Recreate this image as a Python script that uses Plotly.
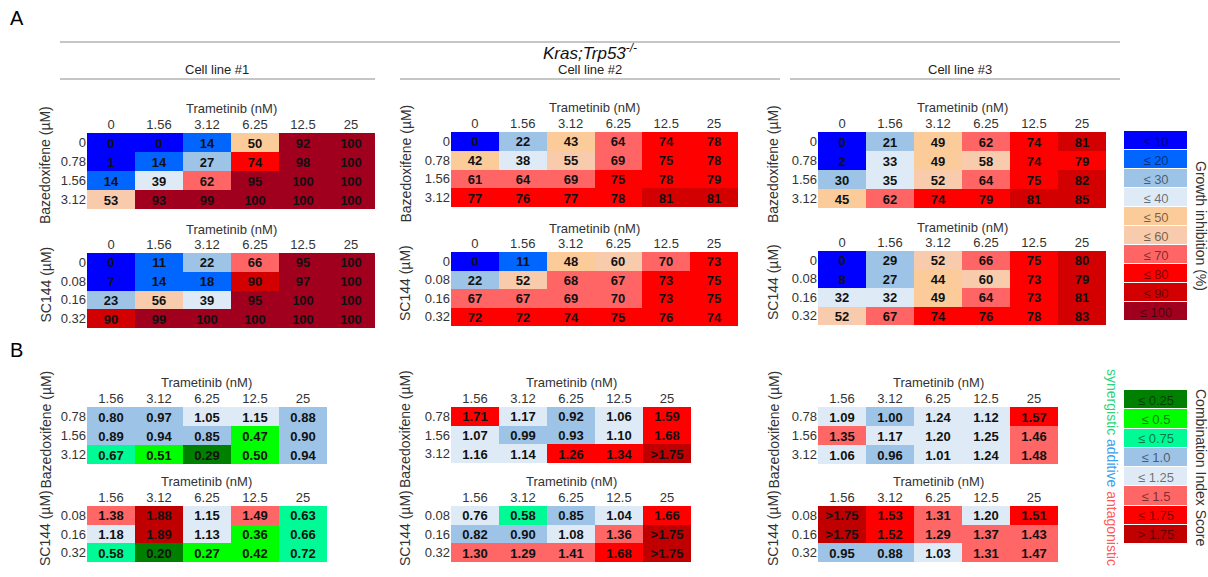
import math
import plotly.graph_objects as go

FONT = "Liberation Sans, Arial, sans-serif"
W, H = 1208, 577

# ---------------- data ----------------
trametinib_a = ["0", "1.56", "3.12", "6.25", "12.5", "25"]
trametinib_b = ["1.56", "3.12", "6.25", "12.5", "25"]
baz_a = ["0", "0.78", "1.56", "3.12"]
sc_a = ["0", "0.08", "0.16", "0.32"]
baz_b = ["0.78", "1.56", "3.12"]
sc_b = ["0.08", "0.16", "0.32"]

# growth inhibition (%)
cl1_baz_gi = [[0, 0, 14, 50, 92, 100], [1, 14, 27, 74, 98, 100],
              [14, 39, 62, 95, 100, 100], [53, 93, 99, 100, 100, 100]]
cl1_sc_gi = [[0, 11, 22, 66, 95, 100], [7, 14, 18, 90, 97, 100],
             [23, 56, 39, 95, 100, 100], [90, 99, 100, 100, 100, 100]]
cl2_baz_gi = [[0, 22, 43, 64, 74, 78], [42, 38, 55, 69, 75, 78],
              [61, 64, 69, 75, 78, 79], [77, 76, 77, 78, 81, 81]]
cl2_sc_gi = [[0, 11, 48, 60, 70, 73], [22, 52, 68, 67, 73, 75],
             [67, 67, 69, 70, 73, 75], [72, 72, 74, 75, 76, 74]]
cl3_baz_gi = [[0, 21, 49, 62, 74, 81], [2, 33, 49, 58, 74, 79],
              [30, 35, 52, 64, 75, 82], [45, 62, 74, 79, 81, 85]]
cl3_sc_gi = [[0, 29, 52, 66, 75, 80], [8, 27, 44, 60, 73, 79],
             [32, 32, 49, 64, 73, 81], [52, 67, 74, 76, 78, 83]]

# combination index
cl1_baz_ci = [[0.80, 0.97, 1.05, 1.15, 0.88], [0.89, 0.94, 0.85, 0.47, 0.90],
              [0.67, 0.51, 0.29, 0.50, 0.94]]
cl1_sc_ci = [[1.38, 1.88, 1.15, 1.49, 0.63], [1.18, 1.89, 1.13, 0.36, 0.66],
             [0.58, 0.20, 0.27, 0.42, 0.72]]
cl2_baz_ci = [[1.71, 1.17, 0.92, 1.06, 1.59], [1.07, 0.99, 0.93, 1.10, 1.68],
              [1.16, 1.14, 1.26, 1.34, ">1.75"]]
cl2_sc_ci = [[0.76, 0.58, 0.85, 1.04, 1.66], [0.82, 0.90, 1.08, 1.36, ">1.75"],
             [1.30, 1.29, 1.41, 1.68, ">1.75"]]
cl3_baz_ci = [[1.09, 1.00, 1.24, 1.12, 1.57], [1.35, 1.17, 1.20, 1.25, 1.46],
              [1.06, 0.96, 1.01, 1.24, 1.48]]
cl3_sc_ci = [[">1.75", 1.53, 1.31, 1.20, 1.51], [">1.75", 1.52, 1.29, 1.37, 1.43],
             [0.95, 0.88, 1.03, 1.31, 1.47]]

# colour classes shown in the original that differ from the printed (rounded) value
class_overrides = {
    ("cl1_baz_ci", 2, 1): 1, ("cl1_baz_ci", 2, 2): 0,
    ("cl2_baz_ci", 2, 2): 6, ("cl2_baz_ci", 2, 3): 6,
    ("cl2_sc_ci", 0, 0): 4,
    ("cl3_sc_gi", 0, 5): 8, ("cl3_sc_gi", 1, 5): 8,
}

gi_legend = ["≤ 10", "≤ 20", "≤ 30", "≤ 40", "≤ 50", "≤ 60", "≤ 70", "≤ 80", "≤ 90", "≤ 100"]
gi_colors = ["#0000FF", "#0066FF", "#9DC3E6", "#DEEBF7", "#FBCB9A",
             "#F8CBAD", "#FF6565", "#FF0000", "#D20000", "#A0001E"]
ci_legend = ["≤ 0.25", "≤ 0.5", "≤ 0.75", "≤ 1.0", "≤ 1.25", "≤ 1.5", "≤ 1.75", "> 1.75"]
ci_thresholds = [0.25, 0.5, 0.75, 1.0, 1.25, 1.5, 1.75]
ci_colors = ["#008000", "#00FF00", "#00FA96", "#9DC3E6", "#DEEBF7",
             "#FF6666", "#FF0000", "#C00000"]


def gi_class(v):
    return max(0, math.ceil(v / 10) - 1)


def ci_class(v):
    if isinstance(v, str):
        return len(ci_thresholds)
    for i, t in enumerate(ci_thresholds):
        if v <= t + 1e-9:
            return i
    return len(ci_thresholds)


def discrete_scale(colors):
    n = len(colors)
    cs = []
    for i, c in enumerate(colors):
        cs.append([i / n, c])
        cs.append([(i + 1) / n, c])
    return cs


def px(x):
    return x / W


def py(y):
    return 1 - y / H


fig = go.Figure()
layout_axes = {}
annotations = []
shapes = []
axis_i = [0]

TICKFONT = dict(family=FONT, size=13, color="#333333")


def ann(text, x, y, size=13, color="#222222", angle=0, xanchor="center", italic=False):
    annotations.append(dict(text=text, x=px(x), y=py(y), xref="paper", yref="paper",
                            showarrow=False, textangle=angle, xanchor=xanchor,
                            yanchor="middle",
                            font=dict(family=FONT, size=size, color=color,
                                      style="italic" if italic else "normal")))


def add_heat(name, values, cols, rows, x0, x1, y0, y1, kind, ytitle, ytitle_x):
    axis_i[0] += 1
    k = axis_i[0]
    xa = "x" if k == 1 else f"x{k}"
    ya = "y" if k == 1 else f"y{k}"
    if kind == "gi":
        z = [[gi_class(v) for v in row] for row in values]
        txt = [[str(v) for v in row] for row in values]
        colors = gi_colors
    else:
        z = [[ci_class(v) for v in row] for row in values]
        txt = [[v if isinstance(v, str) else f"{v:.2f}" for v in row] for row in values]
        colors = ci_colors
    for (nm, r, c), cls in class_overrides.items():
        if nm == name:
            z[r][c] = cls
    fig.add_trace(go.Heatmap(
        z=z, x=cols, y=rows, text=txt, texttemplate="%{text}",
        textfont=dict(family=FONT, size=13, color="#111111", weight="bold"),
        colorscale=discrete_scale(colors), zmin=-0.5, zmax=len(colors) - 0.5,
        showscale=False, hoverinfo="skip", xaxis=xa, yaxis=ya, xgap=0, ygap=0))
    layout_axes["xaxis" if k == 1 else f"xaxis{k}"] = dict(
        domain=[px(x0), px(x1)], anchor=ya, type="category", side="top",
        showgrid=False, zeroline=False, showline=False, ticks="",
        tickfont=TICKFONT, fixedrange=True)
    layout_axes["yaxis" if k == 1 else f"yaxis{k}"] = dict(
        domain=[py(y1), py(y0)], anchor=xa, type="category", autorange="reversed",
        showgrid=False, zeroline=False, showline=False, ticks="",
        tickfont=TICKFONT, fixedrange=True)
    ann("Trametinib (nM)", (x0 + x1) / 2, y0 - 24, size=13, color="#333333")
    ann(ytitle, ytitle_x, (y0 + y1) / 2 - 6, size=14, color="#333333", angle=-90)


def add_legend(labels, colors, x0, x1, y0, y1):
    axis_i[0] += 1
    k = axis_i[0]
    xa = f"x{k}"
    ya = f"y{k}"
    fig.add_trace(go.Heatmap(
        z=[[i] for i in range(len(labels))], x=["c"], y=labels,
        text=[[l] for l in labels], texttemplate="%{text}",
        textfont=dict(family=FONT, size=13, color="rgba(0,0,0,0.55)"),
        colorscale=discrete_scale(colors), zmin=-0.5, zmax=len(colors) - 0.5,
        showscale=False, hoverinfo="skip", xaxis=xa, yaxis=ya, ygap=1))
    layout_axes[f"xaxis{k}"] = dict(domain=[px(x0), px(x1)], anchor=ya, type="category",
                                    visible=False, fixedrange=True)
    layout_axes[f"yaxis{k}"] = dict(domain=[py(y1), py(y0)], anchor=xa, type="category",
                                    autorange="reversed", visible=False, fixedrange=True)


BAZ = "Bazedoxifene (µM)"
SC = "SC144 (µM)"
# panel A
add_heat("cl1_baz_gi", cl1_baz_gi, trametinib_a, baz_a, 87, 375, 133, 209, "gi", BAZ, 45)
add_heat("cl1_sc_gi", cl1_sc_gi, trametinib_a, sc_a, 87, 375, 253, 328, "gi", SC, 45)
add_heat("cl2_baz_gi", cl2_baz_gi, trametinib_a, baz_a, 451, 738, 132, 207, "gi", BAZ, 405)
add_heat("cl2_sc_gi", cl2_sc_gi, trametinib_a, sc_a, 451, 738, 252, 326, "gi", SC, 405)
add_heat("cl3_baz_gi", cl3_baz_gi, trametinib_a, baz_a, 818, 1106, 132, 208, "gi", BAZ, 773)
add_heat("cl3_sc_gi", cl3_sc_gi, trametinib_a, sc_a, 818, 1106, 251, 325, "gi", SC, 773)
# panel B
add_heat("cl1_baz_ci", cl1_baz_ci, trametinib_b, baz_b, 87, 327, 407, 464, "ci", BAZ, 45)
add_heat("cl1_sc_ci", cl1_sc_ci, trametinib_b, sc_b, 87, 327, 506, 562, "ci", SC, 45)
add_heat("cl2_baz_ci", cl2_baz_ci, trametinib_b, baz_b, 451, 691, 407, 463, "ci", BAZ, 405)
add_heat("cl2_sc_ci", cl2_sc_ci, trametinib_b, sc_b, 451, 691, 506, 562, "ci", SC, 405)
add_heat("cl3_baz_ci", cl3_baz_ci, trametinib_b, baz_b, 818, 1058, 407, 464, "ci", BAZ, 773)
add_heat("cl3_sc_ci", cl3_sc_ci, trametinib_b, sc_b, 818, 1058, 506, 562, "ci", SC, 773)
# legends
add_legend(gi_legend, gi_colors, 1124, 1187, 131, 321)
add_legend(ci_legend, ci_colors, 1124, 1187, 390, 544)

ann("A", 8, 18, size=20, color="#000000", xanchor="left")
ann("B", 8, 350, size=20, color="#000000", xanchor="left")
ann("Kras;Trp53<sup>-/-</sup>", 590, 52, size=17, color="#111111", italic=True)
ann("Cell line #1", 217, 69)
ann("Cell line #2", 590, 69)
ann("Cell line #3", 960, 69)
ann("Growth inhibition (%)", 1201, 226, size=14, color="#333333", angle=90)
ann("Combination Index Score", 1201, 467, size=14, color="#333333", angle=90)
ann("<span style='color:#2BD67B'>synergistic</span> "
    "<span style='color:#3AA0F0'>additive</span> "
    "<span style='color:#FF5A5A'>antagonistic</span>", 1112, 467, size=14, angle=90)

for (x0, x1, y) in [(60, 1120, 42), (60, 375, 79), (400, 780, 79), (790, 1120, 79)]:
    shapes.append(dict(type="line", xref="paper", yref="paper", x0=px(x0), x1=px(x1),
                       y0=py(y), y1=py(y), line=dict(color="#8C8C8C", width=1)))

fig.update_layout(width=W, height=H, margin=dict(l=0, r=0, t=0, b=0),
                  paper_bgcolor="white", plot_bgcolor="white",
                  annotations=annotations, shapes=shapes, **layout_axes)

fig.write_html("out.html", config={"displayModeBar": False},
               post_script="document.body.style.margin='0';")
